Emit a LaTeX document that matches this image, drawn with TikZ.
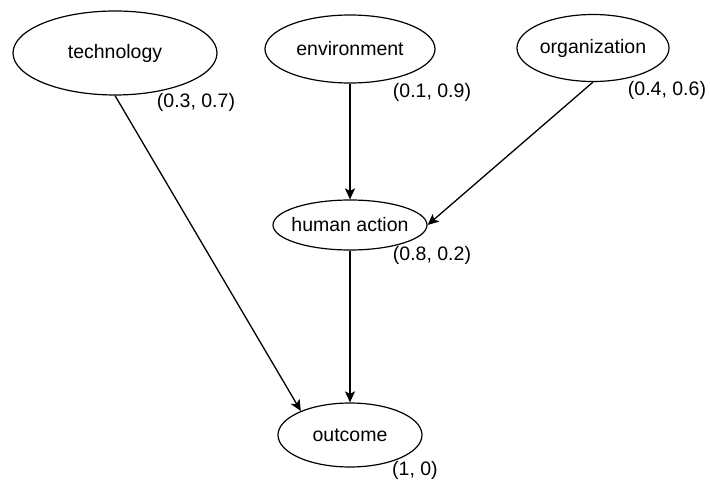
\documentclass[tikz,border=0pt]{standalone}
\usepackage{fontspec}
\setmainfont{Liberation Sans}
\usetikzlibrary{shapes.geometric,arrows.meta}
\begin{document}
\begin{tikzpicture}[x=1pt,y=-1pt,
  txt/.style={font=\fontsize{19.5}{22}\selectfont, inner sep=0pt},
  factor/.style={draw, ellipse, line width=1.2pt, inner sep=0pt,
    label={[txt]center:#1}},
  weight/.style={txt},
  arr/.style={line width=1.3pt, -{Stealth[length=11pt,width=10pt,inset=2.5pt]}}
]
\useasboundingbox (0,0) rectangle (710,481);

% factors
\node[factor=technology,   minimum width=204, minimum height=84] (tech) at (115,53) {};
\node[factor=environment,  minimum width=170, minimum height=68] (env)  at (350,49) {};
\node[factor=organization, minimum width=152, minimum height=67] (org)  at (593,48) {};
\node[factor=human action, minimum width=154, minimum height=50] (human) at (350,225) {};
\node[factor=outcome,      minimum width=144, minimum height=64] (out)  at (350,435) {};

% weights
\node[weight] (wtech)  at (196,102) {(0.3, 0.7)};
\node[weight] (wenv)   at (432,92)  {(0.1, 0.9)};
\node[weight] (worg)   at (667,90)  {(0.4, 0.6)};
\node[weight] (whuman) at (432,255) {(0.8, 0.2)};
\node[weight] (wout)   at (415,470) {(1, 0)};

% influences
\draw[arr] (env.south) -- (human.north);
\draw[arr] (org.south) -- (human.east);
\draw[arr] (tech.south) -- (out.154);
\draw[arr] (human.south) -- (out.north);
\end{tikzpicture}
\end{document}
